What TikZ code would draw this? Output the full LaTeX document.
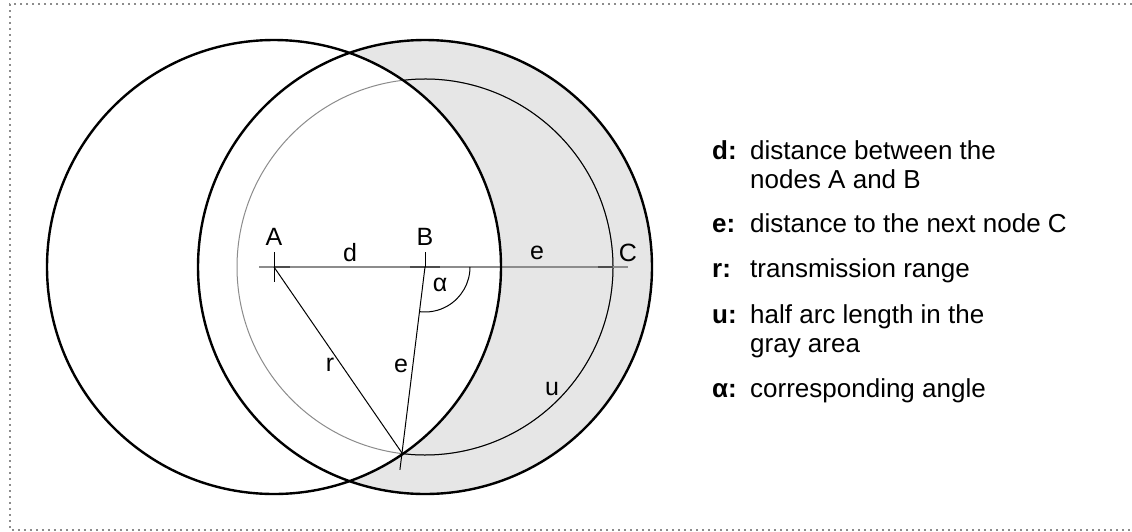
\documentclass[tikz,border=0pt]{standalone}
\usepackage{fontspec}
\setmainfont{Liberation Sans}
\usetikzlibrary{calc}
\definecolor{areagray}{HTML}{E6E6E6}
\definecolor{linegray}{HTML}{8C8C8C}
\begin{document}
\begin{tikzpicture}[x=1pt,y=-1pt,
  bigcircle/.style={line width=2.4pt},
  thinline/.style={line width=1pt},
  lbl/.style={font=\fontsize{25}{29}\selectfont, inner sep=0pt},
  legkey/.style={font=\fontsize{26}{30}\selectfont\bfseries, inner sep=0pt, anchor=base west},
  legtext/.style={font=\fontsize{26}{30}\selectfont, inner sep=0pt, anchor=base west}]
\useasboundingbox (0,0) rectangle (1132,531);
\draw[linegray, line width=1.6pt, dash pattern=on 1.6pt off 4.4pt] (1132,4) -- (10,4) -- (10,530) -- (1132,530);

\coordinate (A) at (274,267);
\coordinate (B) at (425,267);
\coordinate (C) at (613,267);
\coordinate (P) at (402,453);
\coordinate (L) at (259,267);
\coordinate (R) at (628,267);

% gray area
\fill[areagray] (B) circle[radius=227];
\fill[white] (A) circle[radius=227];

% inner circle
\draw[linegray, thinline] (B) circle[radius=188];
\draw[black, thinline] ([shift={(-97.05:188)}]B) arc[start angle=-97.05, end angle=97.05, radius=188];

% horizontal line
\draw[linegray, line width=1.4pt] (L) -- (R);
\draw[black!70, line width=1.4pt] (A) -- ++(16,0);
\draw[black!70, line width=1.4pt] ($(B)+(-15,0)$) -- ++(30,0);
\draw[black!70, line width=1.4pt] ($(C)+(-15,0)$) -- (C);

% ticks
\draw[thinline] ($(A)+(0,-15)$) -- ($(A)+(0,15)$);
\draw[thinline] ($(B)+(0,-15)$) -- (B);

% lines to P
\draw[thinline] (A) -- (P);
\draw[thinline] (B) -- ($(B)!1.09!(P)$);

% angle arc
\draw[thinline] ([shift={(0:45)}]B) arc[start angle=0, end angle=97.05, radius=45];

% big circles
\draw[bigcircle] (A) circle[radius=227];
\draw[bigcircle] (B) circle[radius=227];

% labels
\node[lbl] (labA) at (274,237) {A};
\node[lbl] (labB) at (425,237) {B};
\node[lbl] (labC) at (628,253) {C};
\node[lbl] (labd) at (350,253) {d};
\node[lbl] (labe1) at (537,253) {e};
\node[lbl] (laba) at (440,285) {α};
\node[lbl] (labr) at (330,365) {r};
\node[lbl] (labe2) at (401,366) {e};
\node[lbl] (labu) at (552,389) {u};

% legend
\node[legkey] (kd) at (712,159) {d:};
\node[legtext] (td1) at (750,159) {distance between the};
\node[legtext] (td2) at (750,188) {nodes A and B};
\node[legkey] (ke) at (712,232) {e:};
\node[legtext] (te) at (750,232) {distance to the next node C};
\node[legkey] (kr) at (712,277) {r:};
\node[legtext] (tr) at (750,277) {transmission range};
\node[legkey] (ku) at (712,323) {u:};
\node[legtext] (tu1) at (750,323) {half arc length in the};
\node[legtext] (tu2) at (750,352) {gray area};
\node[legkey] (ka) at (712,397) {α:};
\node[legtext] (ta) at (750,397) {corresponding angle};
\end{tikzpicture}
\end{document}
